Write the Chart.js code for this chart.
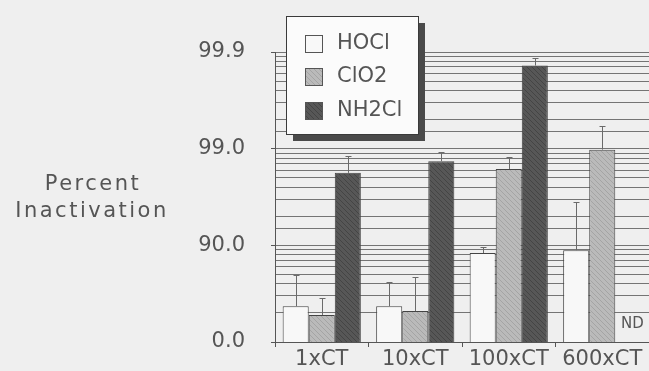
<!DOCTYPE html>
<html>
<head>
<meta charset="utf-8">
<script src="https://cdn.jsdelivr.net/npm/chart.js@4/dist/chart.umd.min.js"></script>
<style>
html,body{margin:0;padding:0;background:#efefef;}
#c{display:block;}
</style>
</head>
<body>
<canvas id="c" width="649" height="371"></canvas>
<script>
// ---- data (log10 reduction units) ----
const categories = ['1xCT', '10xCT', '100xCT', '600xCT'];
const seriesNames = ['HOCl', 'ClO2', 'NH2Cl'];
const hoclLog  = [0.37, 0.37, 0.92, 0.95];
const hoclErr  = [0.69, 0.62, 0.98, 1.45];
const clo2Log  = [0.28, 0.32, 1.79, 1.99];
const clo2Err  = [0.46, 0.67, 1.91, 2.23];
const nh2clLog = [1.75, 1.87, 2.86, null];
const nh2clErr = [1.92, 1.97, 2.94, null];
const ndLabel  = 'ND';
const yTickValues = [1, 10, 100, 1000];      // reduction factors 10^0..10^3
const yTitleLines = ['Percent', 'Inactivation'];

const toFactor = v => (v === null ? null : Math.pow(10, v));
const TEXT = '#555555';
const FONT = 'DejaVu Sans';

function hatch(base, line) {
  const s = 5;
  const p = document.createElement('canvas');
  p.width = s; p.height = s;
  const g = p.getContext('2d');
  g.fillStyle = base; g.fillRect(0, 0, s, s);
  g.strokeStyle = line; g.lineWidth = 1;
  g.beginPath();
  g.moveTo(-1, -1); g.lineTo(s + 1, s + 1);
  g.moveTo(-1, s - 1); g.lineTo(1, s + 1);
  g.moveTo(s - 1, -1); g.lineTo(s + 1, 1);
  g.stroke();
  return g.createPattern(p, 'repeat');
}
const ctx0 = document.getElementById('c').getContext('2d');
const fills = ['#f8f8f8', hatch('#bababa', '#a4a4a4'), hatch('#575757', '#444444')];
const errs = [hoclErr, clo2Err, nh2clErr];

const bgPlugin = {
  id: 'bg',
  beforeDraw(chart) {
    const c = chart.ctx;
    c.save(); c.fillStyle = '#efefef';
    c.fillRect(0, 0, chart.width, chart.height); c.restore();
  }
};

const errPlugin = {
  id: 'errbars',
  afterDatasetsDraw(chart) {
    const c = chart.ctx, ys = chart.scales.y;
    c.save();
    c.strokeStyle = '#6a6a6a'; c.lineWidth = 1;
    chart.data.datasets.forEach((ds, i) => {
      const meta = chart.getDatasetMeta(i);
      meta.data.forEach((el, j) => {
        const e = errs[i][j];
        if (e === null || ds.data[j] === null) return;
        const x = Math.round(el.x) + 0.5;
        const yTop = Math.round(ys.getPixelForValue(toFactor(e))) + 0.5;
        c.beginPath();
        c.moveTo(x, el.y); c.lineTo(x, yTop);
        c.moveTo(x - 3, yTop); c.lineTo(x + 3, yTop);
        c.stroke();
      });
    });
    // ND marker
    const meta = chart.getDatasetMeta(2);
    const el = meta.data[3];
    let x = el && isFinite(el.x) ? el.x : chart.scales.x.getPixelForValue(3) + 26;
    c.fillStyle = TEXT;
    c.font = '15px ' + FONT;
    c.textAlign = 'center'; c.textBaseline = 'middle';
    c.fillText(ndLabel, x + 4, 324);
    c.restore();
  }
};

const legendPlugin = {
  id: 'boxlegend',
  afterDraw(chart) {
    const c = chart.ctx;
    const bx = 286, by = 16, bw = 132, bh = 118;
    c.save();
    c.fillStyle = '#4a4a4a';
    c.fillRect(bx + 7, by + 7, bw, bh);
    c.fillStyle = '#fbfbfb';
    c.fillRect(bx, by, bw, bh);
    c.strokeStyle = '#3a3a3a'; c.lineWidth = 1;
    c.strokeRect(bx + 0.5, by + 0.5, bw, bh);
    const rows = [43, 76, 110];
    chart.data.datasets.forEach((ds, i) => {
      const cy = rows[i];
      c.fillStyle = ds.backgroundColor;
      c.fillRect(305, cy - 8, 17, 17);
      c.strokeStyle = '#555'; c.strokeRect(305.5, cy - 7.5, 17, 17);
      c.fillStyle = TEXT;
      c.font = '21px ' + FONT;
      c.textAlign = 'left'; c.textBaseline = 'middle';
      c.fillText(ds.label, 337, cy + 1);
    });
    // y-axis title
    c.fillStyle = TEXT;
    c.font = '21px ' + FONT;
    c.textAlign = 'center'; c.textBaseline = 'middle';
    try { c.letterSpacing = '2.5px'; } catch (e) {}
    c.fillText(yTitleLines[0], 93, 185);
    c.fillText(yTitleLines[1], 92, 212);
    c.restore();
  }
};

new Chart(ctx0, {
  type: 'bar',
  data: {
    labels: categories,
    datasets: [
      { label: seriesNames[0], data: hoclLog.map(toFactor), backgroundColor: fills[0] },
      { label: seriesNames[1], data: clo2Log.map(toFactor), backgroundColor: fills[1] },
      { label: seriesNames[2], data: nh2clLog.map(toFactor), backgroundColor: fills[2] }
    ].map(d => Object.assign(d, {
      borderColor: '#444', borderWidth: 1, borderSkipped: 'bottom',
      barPercentage: 1.0, categoryPercentage: 0.836
    }))
  },
  options: {
    responsive: false,
    animation: false,
    devicePixelRatio: 1,
    layout: { padding: { top: 52, left: 0, right: 0, bottom: 0 } },
    plugins: { legend: { display: false }, tooltip: { enabled: false } },
    scales: {
      x: {
        grid: { display: true, drawOnChartArea: false, drawTicks: true, tickLength: 5, color: '#555', offset: true },
        border: { display: true, color: '#555' },
        ticks: { color: TEXT, font: { family: FONT, size: 21 }, padding: 0, maxRotation: 0 },
        afterFit(s) { s.height = 29; s.paddingLeft = 0; s.paddingRight = 0; }
      },
      y: {
        type: 'logarithmic',
        min: 1, max: 1000,
        grid: {
          color: '#747474', lineWidth: 1, drawTicks: true, tickLength: 4,
          tickColor: c => (yTickValues.includes(c.tick && c.tick.value) ? '#555' : 'rgba(0,0,0,0)')
        },
        border: { display: true, color: '#555' },
        ticks: {
          autoSkip: false, color: TEXT, padding: 26,
          font: { family: FONT, size: 21 },
          callback: v => (yTickValues.includes(v) ? ((1 - 1 / v) * 100).toFixed(1) : '')
        },
        afterFit(s) { s.width = 275; s.paddingTop = 0; s.paddingBottom = 0; }
      }
    }
  },
  plugins: [bgPlugin, errPlugin, legendPlugin]
});
</script>
</body>
</html>
